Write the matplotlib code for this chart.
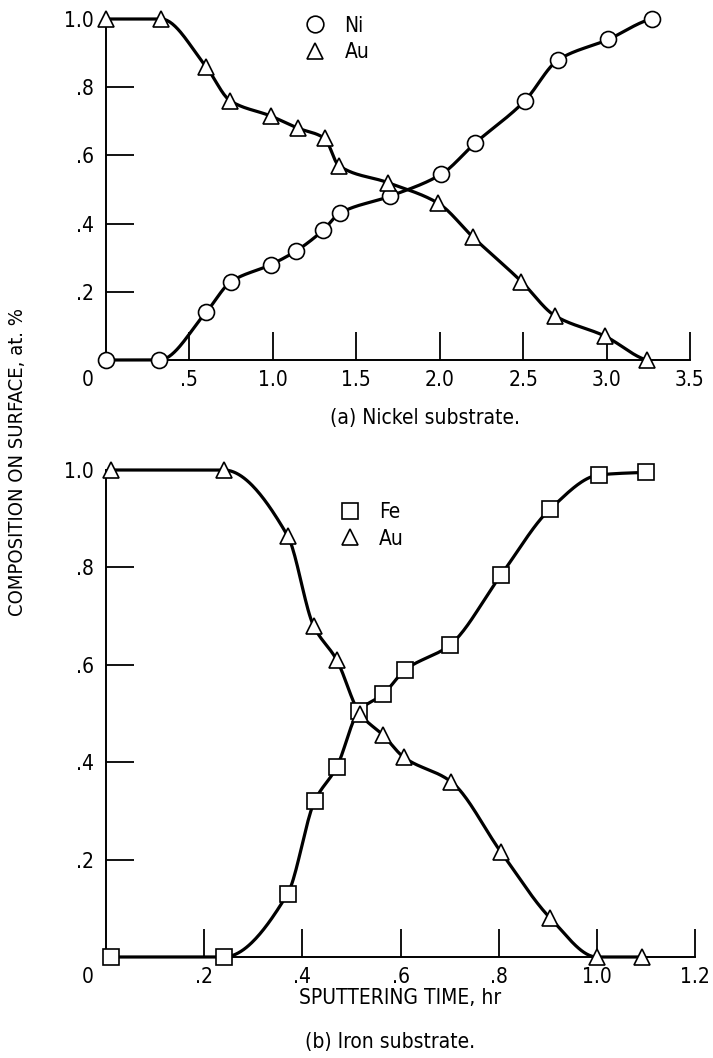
import numpy as np
import matplotlib as mpl
mpl.use('Agg')
from matplotlib import pyplot as plt
from matplotlib.lines import Line2D

plt.rcParams['font.family'] = ['Liberation Sans Narrow', 'DejaVu Sans']
plt.rcParams['font.stretch'] = 'condensed'
plt.rcParams['font.size'] = 15

# (a) Nickel substrate
ni_time = [0.0, 0.32, 0.60, 0.75, 0.99, 1.14, 1.30, 1.40, 1.70, 2.01, 2.21, 2.51, 2.71, 3.01, 3.27]
ni_frac = [0.0, 0.0, 0.14, 0.23, 0.28, 0.32, 0.38, 0.43, 0.48, 0.545, 0.635, 0.76, 0.88, 0.94, 1.0]
au_a_time = [0.0, 0.33, 0.60, 0.745, 0.99, 1.15, 1.31, 1.395, 1.69, 1.99, 2.20, 2.49, 2.69, 2.99, 3.24]
au_a_frac = [1.0, 1.0, 0.86, 0.76, 0.715, 0.68, 0.65, 0.57, 0.52, 0.46, 0.36, 0.23, 0.13, 0.07, 0.0]

# (b) Iron substrate
fe_time = [0.01, 0.24, 0.37, 0.425, 0.47, 0.515, 0.565, 0.61, 0.70, 0.805, 0.905, 1.005, 1.10]
fe_frac = [0.0, 0.0, 0.13, 0.32, 0.39, 0.505, 0.54, 0.59, 0.64, 0.785, 0.92, 0.99, 0.995]
au_b_time = [0.01, 0.24, 0.37, 0.423, 0.47, 0.517, 0.565, 0.607, 0.703, 0.805, 0.905, 1.0, 1.093]
au_b_frac = [1.0, 1.0, 0.865, 0.68, 0.61, 0.50, 0.455, 0.41, 0.36, 0.215, 0.08, 0.0, 0.0]


def pchip(x, y, xs):
    # shape preserving cubic through the points, for the drawn curve only
    x = np.asarray(x, float)
    y = np.asarray(y, float)
    h = np.diff(x)
    d = np.diff(y) / h
    m = np.zeros_like(y)
    for k in range(1, len(x) - 1):
        if d[k - 1] * d[k] > 0:
            w1 = 2 * h[k] + h[k - 1]
            w2 = h[k] + 2 * h[k - 1]
            m[k] = (w1 + w2) / (w1 / d[k - 1] + w2 / d[k])
    m[0] = d[0] if abs(d[0]) < 1e-9 else 0.5 * d[0]
    m[-1] = d[-1] if abs(d[-1]) < 1e-9 else 0.5 * d[-1]
    idx = np.clip(np.searchsorted(x, xs) - 1, 0, len(x) - 2)
    t = (xs - x[idx]) / h[idx]
    h00 = 2 * t**3 - 3 * t**2 + 1
    h10 = t**3 - 2 * t**2 + t
    h01 = -2 * t**3 + 3 * t**2
    h11 = t**3 - t**2
    return h00 * y[idx] + h10 * h[idx] * m[idx] + h01 * y[idx + 1] + h11 * h[idx] * m[idx + 1]


def curve(ax, x, y, marker, ms):
    xs = np.linspace(x[0], x[-1], 400)
    ax.plot(xs, pchip(x, y, xs), color='black', lw=2.3, clip_on=False, zorder=2)
    ax.plot(x, y, linestyle='None', marker=marker, ms=ms, mfc='white', mec='black',
            mew=1.2, clip_on=False, zorder=3)


def style(ax, xmax, xticks, xlabels):
    ax.set_xlim(0, xmax)
    ax.set_ylim(0, 1.0)
    for s in ['top', 'right']:
        ax.spines[s].set_visible(False)
    for s in ['left', 'bottom']:
        ax.spines[s].set_linewidth(1.4)
    ax.set_xticks(xticks)
    ax.set_xticklabels(xlabels)
    ax.set_yticks([0.2, 0.4, 0.6, 0.8, 1.0])
    ax.set_yticklabels(['.2', '.4', '.6', '.8', '1.0'])
    ax.tick_params(direction='in', length=20, width=1.3, labelsize=15)
    ax.tick_params(axis='x', pad=7)
    ax.tick_params(axis='y', pad=9)
    ax.annotate('0', xy=(0, 0), xycoords='axes fraction', xytext=(-13, -7),
                textcoords='offset points', ha='center', va='top', fontsize=15)


fig = plt.figure(figsize=(7.13, 10.58), dpi=100)
W, H = 713.0, 1058.0
ax1 = fig.add_axes([106 / W, 1 - 360 / H, 584 / W, 341 / H])
ax2 = fig.add_axes([106 / W, 1 - 957 / H, 589 / W, 487 / H])

curve(ax1, ni_time, ni_frac, 'o', 11.5)
curve(ax1, au_a_time, au_a_frac, '^', 12)
style(ax1, 3.5, [0.5, 1.0, 1.5, 2.0, 2.5, 3.0, 3.5],
      ['.5', '1.0', '1.5', '2.0', '2.5', '3.0', '3.5'])

curve(ax2, fe_time, fe_frac, 's', 11)
curve(ax2, au_b_time, au_b_frac, '^', 12)
style(ax2, 1.2, [0.2, 0.4, 0.6, 0.8, 1.0, 1.2],
      ['.2', '.4', '.6', '.8', '1.0', '1.2'])

def legend(ax, items, x, y):
    handles = [Line2D([], [], linestyle='None', marker=m, ms=12, mfc='white',
                      mec='black', mew=1.2) for m, _ in items]
    ax.legend(handles, [t for _, t in items], loc='upper left', frameon=False,
              bbox_to_anchor=(x, y), bbox_transform=ax.transData,
              handlelength=1.0, handletextpad=0.9, labelspacing=0.3,
              borderpad=0, fontsize=15)

legend(ax1, [('o', 'Ni'), ('^', 'Au')], 1.13, 1.04)
legend(ax2, [('s', 'Fe'), ('^', 'Au')], 0.455, 0.955)

ax2.set_xlabel('SPUTTERING TIME, hr', fontsize=15, labelpad=1)
fig.text(425 / W, 1 - 418 / H, '(a) Nickel substrate.', ha='center', va='center', fontsize=15)
fig.text(390 / W, 1 - 1042 / H, '(b) Iron substrate.', ha='center', va='center', fontsize=15)
fig.text(18 / W, 1 - 462 / H, 'COMPOSITION ON SURFACE, at. %', rotation=90,
         ha='center', va='center', fontsize=14.5)

fig.savefig('out.png', dpi=100)
